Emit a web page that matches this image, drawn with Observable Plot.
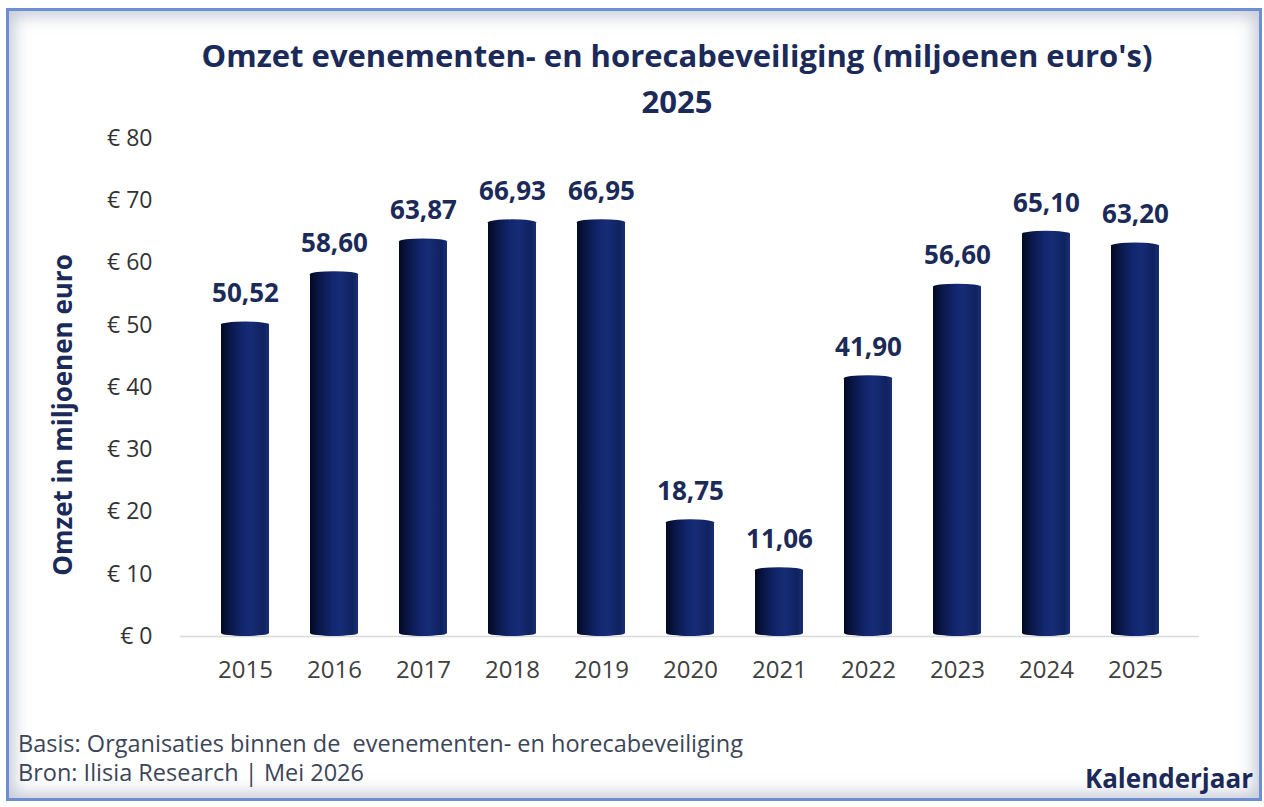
<!DOCTYPE html>
<html>
<head>
<meta charset="utf-8">
<script src="https://cdn.jsdelivr.net/npm/d3@7"></script>
<script src="https://cdn.jsdelivr.net/npm/@observablehq/plot@0.6"></script>
<style>
  html, body { margin: 0; padding: 0; background: #ffffff; }
  body { width: 1264px; height: 807px; position: relative; overflow: hidden; font-family: "Open Sans", sans-serif; }
  #frame { position: absolute; left: 6px; top: 8px; width: 1256px; height: 793px; box-sizing: border-box;
           border: 3px solid #6c8fd2; box-shadow: inset 0 0 16px 5px rgba(140,150,175,0.5); background: #fff; }
  .t { position: absolute; white-space: nowrap; }
  .title { color: #1b2a58; font-weight: 700; font-size: 31px; line-height: 31px; text-align: center; left: 0; width: 1354px; }
  .foot { color: #3c4558; font-size: 23.5px; line-height: 23.5px; left: 18px; }
  #ylab { position: absolute; left: 62px; top: 415px; transform: translate(-50%, -50%) rotate(-90deg);
          color: #1b2a58; font-weight: 700; font-size: 26px; line-height: 26px; white-space: nowrap; }
  #chart { position: absolute; left: 0; top: 130px; }
</style>
</head>
<body>
<div id="frame"></div>
<div class="t title" style="top:39.5px">Omzet evenementen- en horecabeveiliging (miljoenen euro's)</div>
<div class="t title" style="top:85.5px">2025</div>
<div id="ylab"></div>
<div id="chart"></div>
<div class="t foot" style="top:732px">Basis: Organisaties binnen de&nbsp; evenementen- en horecabeveiliging</div>
<div class="t foot" style="top:761px">Bron: Ilisia Research | Mei 2026</div>
<div class="t" style="top:765px; right:11px; color:#1b2a58; font-weight:700; font-size:26px; line-height:26px;">Kalenderjaar</div>
<script>
const years = ["2015","2016","2017","2018","2019","2020","2021","2022","2023","2024","2025"];
const omzet = [50.52, 58.60, 63.87, 66.93, 66.95, 18.75, 11.06, 41.90, 56.60, 65.10, 63.20];
const yTicks = [0, 10, 20, 30, 40, 50, 60, 70, 80];
const yLabel = "Omzet in miljoenen euro";

document.getElementById("ylab").textContent = yLabel;

const data = years.map((y, i) => ({year: y, value: omzet[i]}));
const fmt = v => d3.format(".2f")(v).replace(".", ",");

const chart = Plot.plot({
  width: 1264,
  height: 580,
  marginTop: 8,
  marginBottom: 74,
  marginLeft: 180,
  marginRight: 65,
  style: {fontFamily: "'Open Sans', sans-serif", background: "transparent", overflow: "visible"},
  x: {domain: years, paddingInner: 0.465, paddingOuter: 0.41, label: null},
  y: {domain: [0, 80], label: null},
  marks: [
    Plot.axisX({tickSize: 0, tickPadding: 24, fontSize: 24, color: "#404040", label: null}),
    Plot.axisY({ticks: yTicks, tickSize: 0, tickPadding: 28, fontSize: 23, color: "#333333",
                tickFormat: d => "€ " + d, label: null}),
    Plot.ruleY([0], {stroke: "#d9d9d9", strokeWidth: 1.5}),
    Plot.barY(data, {x: "year", y: "value", fill: "url(#cyl)", rx: 24, ry: 3}),
    Plot.text(data, {x: "year", y: "value", text: d => fmt(d.value), dy: -28, fontSize: 26, fontWeight: 700, fill: "#1b2a58"})
  ]
});

d3.select(chart).insert("defs", ":first-child").html(`
  <linearGradient id="cyl" x1="0" x2="1" y1="0" y2="0">
    <stop offset="0%" stop-color="#020922"/>
    <stop offset="18%" stop-color="#091646"/>
    <stop offset="45%" stop-color="#12266e"/>
    <stop offset="62%" stop-color="#172c76"/>
    <stop offset="88%" stop-color="#0f2260"/>
    <stop offset="100%" stop-color="#1a2f72"/>
  </linearGradient>`);

document.getElementById("chart").appendChild(chart);
</script>
</body>
</html>
